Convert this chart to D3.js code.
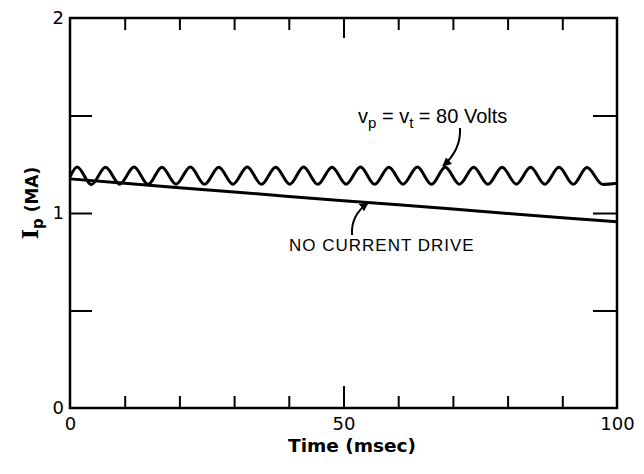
<!DOCTYPE html>
<html>
<head>
<meta charset="utf-8">
<script src="https://cdn.jsdelivr.net/npm/d3@7"></script>
<style>
  body { margin: 0; background: #fff; }
  svg { display: block; }
</style>
</head>
<body>
<div id="chart"></div>
<script>
// values
const timeTicks = [10, 20, 30, 40, 50, 60, 70, 80, 90];
const xLabels = [0, 50, 100];
const yLabels = [0, 1, 2];
const yTicks = [0.5, 1, 1.5];

// no current drive (MA vs msec)
const noDriveT = [0, 10, 20, 30, 40, 50, 60, 70, 80, 90, 100];
const noDriveI = [1.175, 1.153, 1.130, 1.108, 1.085, 1.063, 1.042, 1.020, 0.998, 0.976, 0.955];

// vp = vt = 80 V, oscillating trace: peaks and troughs
const waveT = [0, 1.3, 3.9, 6.5, 9.1, 11.7, 14.3, 16.8, 19.4, 22.0, 24.6, 27.2, 29.8, 32.4, 35.0,
  37.6, 40.2, 42.7, 45.3, 47.9, 50.5, 53.1, 55.7, 58.3, 60.9, 63.5, 66.1, 68.6, 71.2, 73.8,
  76.4, 79.0, 81.6, 84.2, 86.8, 89.4, 92.0, 94.5, 97.4, 100];
const waveI = [1.185, 1.236, 1.146, 1.235, 1.148, 1.236, 1.147, 1.235, 1.148, 1.236, 1.147, 1.235, 1.148, 1.236, 1.147,
  1.235, 1.148, 1.236, 1.147, 1.235, 1.148, 1.236, 1.147, 1.235, 1.148, 1.236, 1.147, 1.235, 1.148, 1.234,
  1.147, 1.235, 1.148, 1.234, 1.147, 1.234, 1.147, 1.233, 1.146, 1.152];

const width = 644, height = 474;
const font = "'DejaVu Sans', sans-serif";

const svg = d3.select("#chart").append("svg")
  .attr("width", width)
  .attr("height", height);

const x = d3.scaleLinear().domain([0, 100]).range([70, 617]);
const y = d3.scaleLinear().domain([0, 2]).range([408, 18]);

// inward ticks on all four sides
function ticks(g) {
  g.select(".domain").remove();
  g.selectAll(".tick line").attr("stroke", "#000").attr("stroke-width", 2);
}

svg.append("g")
  .attr("transform", `translate(0,${y(0)})`)
  .call(d3.axisBottom(x).tickValues(timeTicks).tickSize(-12).tickFormat(""))
  .call(ticks)
  .selectAll(".tick line").filter(d => d === 50).attr("y2", -22);

svg.append("g")
  .attr("transform", `translate(0,${y(2)})`)
  .call(d3.axisTop(x).tickValues(timeTicks).tickSize(-12).tickFormat(""))
  .call(ticks)
  .selectAll(".tick line").filter(d => d === 50).attr("y2", 20);

svg.append("g")
  .attr("transform", `translate(${x(0)},0)`)
  .call(d3.axisLeft(y).tickValues(yTicks).tickSize(-22).tickFormat(""))
  .call(ticks);

svg.append("g")
  .attr("transform", `translate(${x(100)},0)`)
  .call(d3.axisRight(y).tickValues(yTicks).tickSize(-24).tickFormat(""))
  .call(ticks);

// tick labels
const xl = svg.append("g")
  .attr("transform", `translate(0,${y(0)})`)
  .call(d3.axisBottom(x).tickValues(xLabels).tickSize(0).tickPadding(9).tickFormat(d3.format("d")));
xl.select(".domain").remove();
xl.selectAll("text").attr("font-family", font).attr("font-size", 18).attr("fill", "#000");

const yl = svg.append("g")
  .attr("transform", `translate(${x(0)},0)`)
  .call(d3.axisLeft(y).tickValues(yLabels).tickSize(0).tickPadding(6).tickFormat(d3.format("d")));
yl.select(".domain").remove();
yl.selectAll("text").attr("font-family", font).attr("font-size", 18).attr("fill", "#000");

// frame
svg.append("rect")
  .attr("x", x(0)).attr("y", y(2))
  .attr("width", x(100) - x(0)).attr("height", y(0) - y(2))
  .attr("fill", "none").attr("stroke", "#000").attr("stroke-width", 2.5);

// curves
const line = d3.line().x(d => x(d[0])).y(d => y(d[1]));

svg.append("path")
  .datum(d3.zip(noDriveT, noDriveI))
  .attr("fill", "none").attr("stroke", "#000").attr("stroke-width", 3)
  .attr("d", line);

svg.append("path")
  .datum(d3.zip(waveT, waveI))
  .attr("fill", "none").attr("stroke", "#000").attr("stroke-width", 3)
  .attr("stroke-linejoin", "round")
  .attr("d", line.curve(d3.curveMonotoneX));

// axis titles
svg.append("text")
  .attr("x", 352).attr("y", 452)
  .attr("text-anchor", "middle")
  .attr("font-family", font).attr("font-size", 18.5).attr("font-weight", "bold")
  .text("Time (msec)");

const yt = svg.append("text")
  .attr("transform", "translate(38,203) rotate(-90)")
  .attr("text-anchor", "middle")
  .attr("font-weight", "bold");
yt.append("tspan").attr("font-family", "'DejaVu Serif', serif").attr("font-size", 22).text("I");
yt.append("tspan").attr("font-family", font).attr("font-size", 15).attr("dy", 5).text("p");
yt.append("tspan").attr("font-family", font).attr("font-size", 17).attr("dy", -5).text(" (MA)");

// annotations
const label = svg.append("text")
  .attr("x", 358).attr("y", 123)
  .attr("font-family", "'Liberation Sans', sans-serif").attr("font-size", 20);
label.append("tspan").text("v");
label.append("tspan").attr("font-size", 15).attr("dy", 5).text("p");
label.append("tspan").attr("dy", -5).text(" = v");
label.append("tspan").attr("font-size", 15).attr("dy", 5).text("t");
label.append("tspan").attr("dy", -5).text(" = 80 Volts");

svg.append("text")
  .attr("x", 289).attr("y", 251)
  .attr("font-family", "'Liberation Sans', sans-serif").attr("font-size", 17)
  .attr("letter-spacing", 1)
  .text("NO CURRENT DRIVE");

svg.append("defs").append("marker")
  .attr("id", "head")
  .attr("viewBox", "0 0 10 10")
  .attr("refX", 9).attr("refY", 5)
  .attr("markerWidth", 9).attr("markerHeight", 9)
  .attr("markerUnits", "userSpaceOnUse")
  .attr("orient", "auto")
  .append("path").attr("d", "M0,0L10,5L0,10z").attr("fill", "#000");

svg.append("path")
  .attr("d", "M460,128C461,145 453,157 443,166")
  .attr("fill", "none").attr("stroke", "#000").attr("stroke-width", 2)
  .attr("marker-end", "url(#head)");

svg.append("path")
  .attr("d", "M352,235C351,220 358,210 368,203")
  .attr("fill", "none").attr("stroke", "#000").attr("stroke-width", 2)
  .attr("marker-end", "url(#head)");
</script>
</body>
</html>
